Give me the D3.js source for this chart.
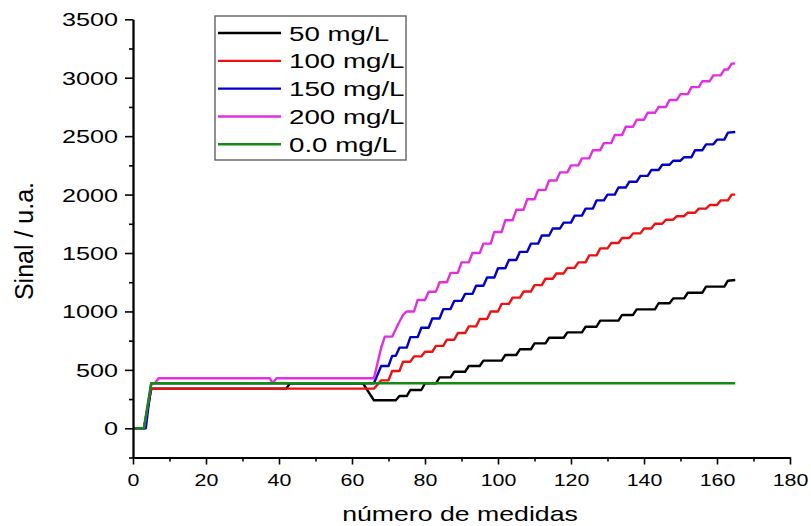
<!DOCTYPE html>
<html>
<head>
<meta charset="utf-8">
<script src="https://cdn.jsdelivr.net/npm/d3@7"></script>
<style>
  html, body { margin: 0; padding: 0; background: #fff; }
  svg { display: block; font-family: "Liberation Sans", Arial, sans-serif; }
</style>
</head>
<body>
<svg id="chart" width="811" height="526"></svg>
<script>
// ---------- DATA ----------
const xTicks = [0, 20, 40, 60, 80, 100, 120, 140, 160, 180];
const xMinorTicks = [10, 30, 50, 70, 90, 110, 130, 150, 170];
const yTicks = [0, 500, 1000, 1500, 2000, 2500, 3000, 3500];
const yMinorTicks = [-250, 250, 750, 1250, 1750, 2250, 2750, 3250];
const xTitle = "número de medidas";
const yTitle = "Sinal / u.a.";
const seriesNames = ["50 mg/L", "100 mg/L", "150 mg/L", "200 mg/L", "0.0 mg/L"];

const s50 = [[0,0],[3,0],[5,339],[42,339],[43,385],[63,385],[66,240],[72,240],[73,276],[75,276],[76,328],[79,328],[80,385],[83,385],[84,436],[87,436],[88,484],[91,484],[92,533],[95,533],[96,579],[101,579],[102,627],[105,627],[106,676],[109,676],[110,727],[113,727],[114,775],[118,775],[119,821],[123,821],[124,869],[127,869],[128,921],[133,921],[134,970],[137,970],[138,1018],[143,1018],[144,1070],[147,1070],[148,1112],[151,1112],[152,1160],[156,1160],[157,1212],[162,1212],[163,1263],[165,1269]];

const s100 = [[0,0],[3,0],[5,339],[66,339],[68,410],[70,410],[71,490],[73,490],[74,570],[76,570],[77,615],[79,615],[80,655],[82,655],[83,705],[85,705],[86,758],[88,758],[89,815],[91,815],[92,872],[94,872],[95,935],[97,935],[98,1000],[100,1000],[101,1065],[103,1065],[104,1118],[106,1118],[107,1170],[109,1170],[110,1225],[112,1225],[113,1280],[115,1280],[116,1325],[118,1325],[119,1373],[121,1373],[122,1420],[124,1420],[125,1480],[127,1480],[128,1540],[130,1540],[131,1585],[133,1585],[134,1628],[136,1628],[137,1668],[139,1668],[140,1710],[142,1710],[143,1750],[145,1750],[146,1785],[148,1785],[149,1815],[151,1815],[152,1845],[154,1845],[155,1880],[157,1880],[158,1911],[160,1911],[161,1950],[163,1950],[164,2000],[165,2000]];

const s150 = [[0,0],[3.5,0],[5,385],[66,385],[68,533],[70,533],[71,620],[72,620],[73,690],[75,690],[76,780],[78,780],[79,860],[81,860],[82,940],[84,940],[85,1020],[87,1020],[88,1090],[90,1090],[91,1150],[93,1150],[94,1220],[96,1220],[97,1290],[99,1290],[100,1370],[102,1370],[103,1440],[105,1440],[106,1510],[108,1510],[109,1580],[111,1580],[112,1650],[114,1650],[115,1710],[117,1710],[118,1760],[120,1760],[121,1820],[123,1820],[124,1880],[126,1880],[127,1950],[129,1950],[130,2000],[132,2000],[133,2060],[135,2060],[136,2110],[138,2110],[139,2160],[141,2160],[142,2210],[144,2210],[145,2255],[147,2255],[148,2290],[150,2290],[151,2320],[153,2320],[154,2380],[156,2380],[157,2430],[159,2430],[160,2470],[162,2470],[163,2530],[165,2535]];

const s200 = [[0,0],[3,0],[5,385],[6,385],[7,428],[37.5,428],[38.3,385],[39.3,428],[66,428],[68,690],[69,784],[71,784],[72,850],[73,912],[74,970],[75,1000],[77,1000],[78,1098],[80,1098],[81,1169],[83,1169],[84,1250],[86,1250],[87,1330],[89,1330],[90,1420],[92,1420],[93,1500],[95,1500],[96,1580],[98,1580],[99,1680],[101,1680],[102,1780],[104,1780],[105,1870],[107,1870],[108,1960],[110,1960],[111,2040],[113,2040],[114,2120],[116,2120],[117,2190],[119,2190],[120,2250],[122,2250],[123,2310],[125,2310],[126,2380],[128,2380],[129,2440],[131,2440],[132,2510],[134,2510],[135,2580],[137,2580],[138,2640],[140,2640],[141,2700],[143,2700],[144,2750],[146,2750],[147,2810],[149,2810],[150,2860],[152,2860],[153,2920],[155,2920],[156,2970],[158,2970],[159,3020],[161,3020],[162,3070],[163,3070],[164,3120],[165,3123]];

const s0 = [[0,0],[3,0],[5,385],[165,385]];

// ---------- STYLE / LAYOUT ----------
const seriesData = [s50, s100, s150, s200, s0];
const colors = ["#000000", "#ee1111", "#0000c8", "#e030e0", "#138a13"];
const FONT = '"Liberation Sans", Arial, sans-serif';

const svg = d3.select("#chart");
const x = d3.scaleLinear().domain([0, 180]).range([133, 790]);
const y = d3.scaleLinear().domain([-250, 3500]).range([457.5, 19.3]);

const line = d3.line().x(d => x(d[0])).y(d => y(d[1]));

// series (green drawn last, on top)
const g = svg.append("g");
seriesData.forEach((s, i) => {
  g.append("path")
    .attr("d", line(s))
    .attr("fill", "none")
    .attr("stroke", colors[i])
    .attr("stroke-width", 2.4)
    .attr("stroke-linejoin", "round");
});

function styleAxis(sel) {
  sel.selectAll("path.domain").attr("stroke", "#000").attr("stroke-width", 1.8);
  sel.selectAll(".tick line").attr("stroke", "#000").attr("stroke-width", 1.6);
}

// X axis
const xMinorG = svg.append("g").attr("transform", `translate(0,${y(-250)})`)
  .call(d3.axisBottom(x).tickValues(xMinorTicks).tickSize(4).tickSizeOuter(0).tickFormat(""));
styleAxis(xMinorG);
const xAxisG = svg.append("g").attr("transform", `translate(0,${y(-250)})`)
  .call(d3.axisBottom(x).tickValues(xTicks).tickSize(7).tickSizeOuter(0).tickFormat(d3.format("d")));
styleAxis(xAxisG);
xAxisG.selectAll(".tick text")
  .attr("y", 29).attr("dy", 0)
  .attr("fill", "#000")
  .style("font-family", FONT)
  .style("font-size", "17px")
  .attr("transform", "scale(1.26,1)");

// Y axis
const yMinorG = svg.append("g").attr("transform", `translate(${x(0)},0)`)
  .call(d3.axisLeft(y).tickValues(yMinorTicks).tickSize(4).tickSizeOuter(0).tickFormat(""));
styleAxis(yMinorG);
const yAxisG = svg.append("g").attr("transform", `translate(${x(0)},0)`)
  .call(d3.axisLeft(y).tickValues(yTicks).tickSize(8).tickSizeOuter(0).tickFormat(d3.format("d")));
styleAxis(yAxisG);
yAxisG.selectAll(".tick text")
  .attr("x", 0).attr("dy", "0.36em")
  .attr("fill", "#000")
  .style("font-family", FONT)
  .style("font-size", "18px")
  .attr("transform", "translate(-15,0) scale(1.4,1)");

// Axis titles
svg.append("text")
  .attr("transform", `translate(460,521) scale(1.27,1)`)
  .attr("text-anchor", "middle")
  .style("font-family", FONT)
  .style("font-size", "21px")
  .attr("fill", "#000")
  .text(xTitle);

svg.append("text")
  .attr("transform", `translate(33,241) rotate(-90)`)
  .attr("text-anchor", "middle")
  .style("font-family", FONT)
  .style("font-size", "25px")
  .attr("fill", "#000")
  .text(yTitle);

// Legend
const legendBox = { x: 215, y: 16, w: 191, h: 144 };
svg.append("rect")
  .attr("x", legendBox.x).attr("y", legendBox.y)
  .attr("width", legendBox.w).attr("height", legendBox.h)
  .attr("fill", "#fff").attr("stroke", "#555").attr("stroke-width", 1.3);

const rowY = d3.scaleLinear().domain([0, 4]).range([33, 144.3]);
const legendOrder = [0, 1, 2, 3, 4];
legendOrder.forEach((si, r) => {
  const yy = rowY(r);
  svg.append("line")
    .attr("x1", 218).attr("x2", 281)
    .attr("y1", yy).attr("y2", yy)
    .attr("stroke", colors[si]).attr("stroke-width", 2.4);
  svg.append("text")
    .attr("transform", `translate(289,${yy + 7.5}) scale(1.32,1)`)
    .style("font-family", FONT)
    .style("font-size", "21px")
    .attr("fill", "#000")
    .text(seriesNames[si]);
});
</script>
</body>
</html>
